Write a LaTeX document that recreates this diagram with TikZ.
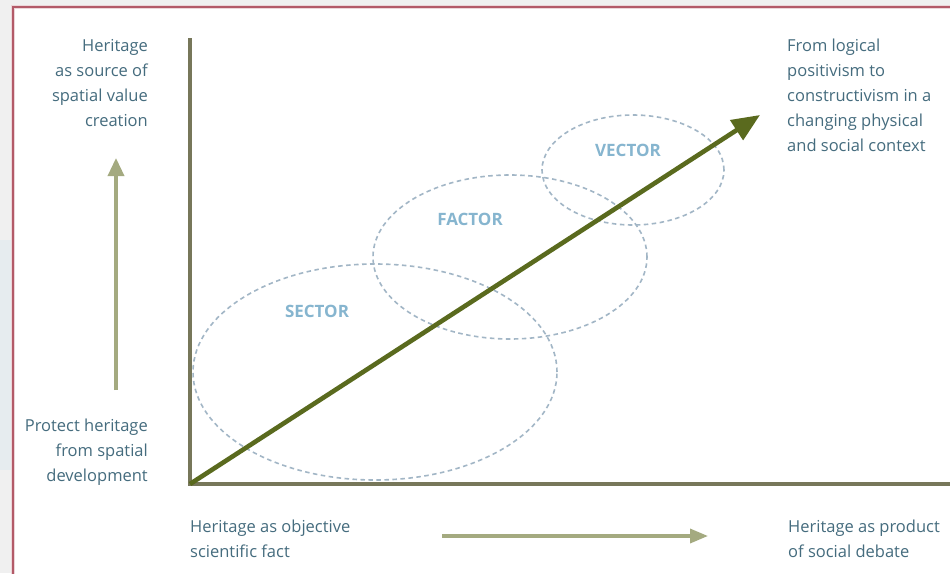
\documentclass[tikz,border=0pt]{standalone}
\usepackage{fontspec}
\setmainfont{Open Sans}
\usetikzlibrary{arrows.meta,shapes.geometric}
\definecolor{txtc}{HTML}{456C7E}
\definecolor{lblc}{HTML}{86B5CF}
\definecolor{ellc}{HTML}{A2B6C6}
\definecolor{axisc}{HTML}{77775A}
\definecolor{diagc}{HTML}{5A6A1E}
\definecolor{smallc}{HTML}{A4AA80}
\definecolor{framec}{HTML}{B35A68}
\definecolor{stripc}{HTML}{E6ECEF}
\tikzset{
  side/.style={font=\fontsize{16.5}{25}\selectfont, text=txtc, inner sep=0pt},
  zone/.style={draw=ellc, ellipse, dash pattern=on 4.5pt off 3.5pt, line width=1.6pt, inner sep=0pt},
  zonelabel/.style={font=\fontsize{17}{20}\selectfont\bfseries, text=lblc, inner sep=0pt},
  axisline/.style={draw=axisc, line width=3.4pt},
  diagarrow/.style={draw=diagc, line width=4.6pt, -{Triangle[length=28pt,width=23pt]}},
  hintarrow/.style={draw=smallc, line width=3.4pt, -{Triangle[length=18pt,width=16pt]}}
}
\begin{document}
\begin{tikzpicture}[x=1pt,y=-1pt]
\useasboundingbox (0,0) rectangle (950,573);
% background and frame
\fill[black!6] (0,0) rectangle (950,573);
\fill[stripc] (0,240) rectangle (12,470);
\fill[white] (13,7) rectangle (965,590);
\draw[framec!25, line width=4pt] (13,7) rectangle (965,590);
\draw[framec, line width=1.5pt] (13,7) rectangle (965,590);

% axes
\coordinate (O) at (190,484);
\coordinate (ytop) at (190,38);
\coordinate (xend) at (952,484);
\draw[axisline] (ytop) -- (O) -- (xend);

% ellipses
\node[zone, minimum width=364pt, minimum height=216pt] (sectorz) at (375,372) {};
\node[zone, minimum width=274pt, minimum height=164pt] (factorz) at (510,257) {};
\node[zone, minimum width=182pt, minimum height=110pt] (vectorz) at (633,170) {};
\node[zonelabel] (sector) at (317,311) {SECTOR};
\node[zonelabel] (factor) at (470,219) {FACTOR};
\node[zonelabel] (vector) at (628,150) {VECTOR};

% diagonal arrow
\coordinate (tip) at (760,115);
\draw[diagarrow] (O) -- (tip);

% texts
\node[side, align=right, anchor=north east] (tl) at (148,39)
  {Heritage\\as source of\\spatial value\\creation};
\node[side, align=right, anchor=north east] (bl) at (148,419)
  {Protect heritage\\from spatial\\development};
\node[side, align=left, anchor=north west] (tr) at (787,39)
  {From logical\\positivism to\\constructivism in a\\changing physical\\and social context};
\node[side, align=left, anchor=north west] (bx) at (190,520)
  {Heritage as objective\\scientific fact};
\node[side, align=left, anchor=north west] (br) at (788,520)
  {Heritage as product\\of social debate};

% hint arrows
\coordinate (upa) at (116,390);
\coordinate (upb) at (116,158);
\draw[hintarrow] (upa) -- (upb);
\coordinate (ra) at (442,536);
\coordinate (rb) at (708,536);
\draw[hintarrow, -{Triangle[length=18pt,width=14pt]}] (ra) -- (rb);
\end{tikzpicture}
\end{document}
